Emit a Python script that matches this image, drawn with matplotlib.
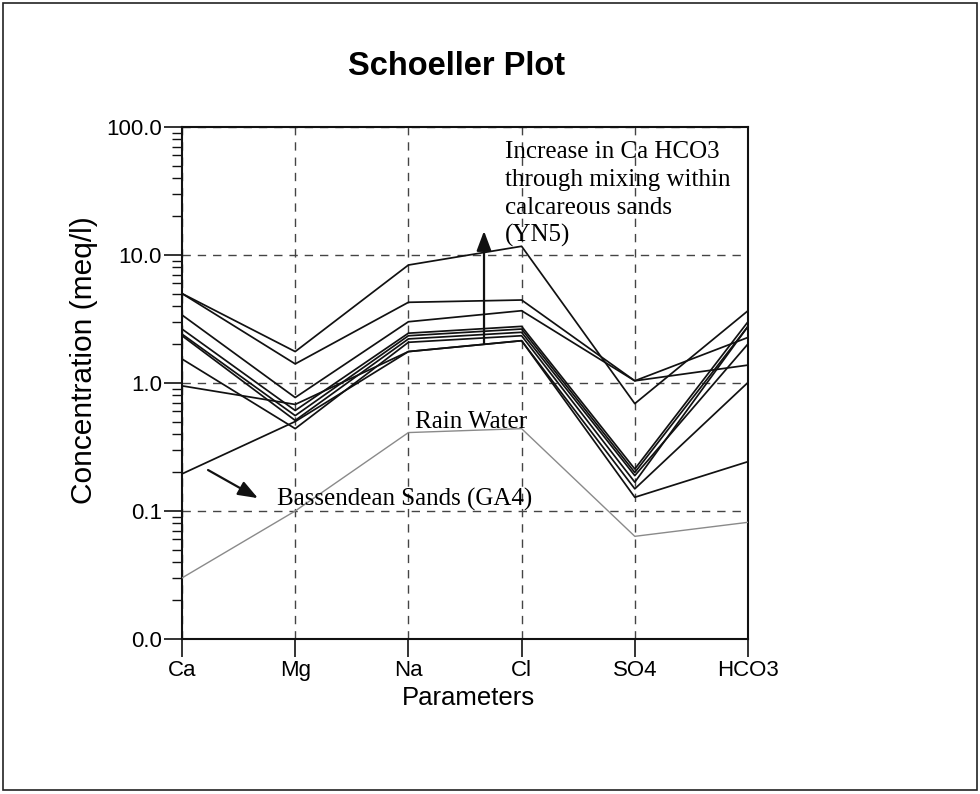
import matplotlib
matplotlib.use("Agg")
import matplotlib.pyplot as plt
from matplotlib.patches import Rectangle
from matplotlib.ticker import FixedLocator, LogLocator, NullFormatter

# Ion concentrations (meq/l) for each groundwater sample
parameters = ["Ca", "Mg", "Na", "Cl", "SO4", "HCO3"]
sample_yn5 = [5.0, 1.76, 8.35, 11.7, 0.69, 3.67]
sample_b = [5.0, 1.41, 4.27, 4.45, 1.04, 1.38]
sample_c = [3.4, 0.77, 3.01, 3.67, 1.04, 2.27]
sample_d = [2.64, 0.61, 2.45, 2.77, 0.213, 3.01]
sample_e = [2.41, 0.556, 2.34, 2.64, 0.20, 2.77]
sample_f = [2.34, 0.51, 2.21, 2.49, 0.189, 2.02]
sample_g = [1.54, 0.44, 2.08, 2.34, 0.168, 2.77]
sample_h = [0.95, 0.68, 1.76, 2.14, 0.149, 1.01]
sample_ga4 = [0.195, 0.50, 1.76, 2.14, 0.128, 0.243]
rain_water = [0.03, 0.10, 0.41, 0.44, 0.0634, 0.0816]

samples = [sample_yn5, sample_b, sample_c, sample_d, sample_e,
           sample_f, sample_g, sample_h, sample_ga4]

y_ticks = [0.01, 0.1, 1.0, 10.0, 100.0]
y_tick_labels = ["0.0", "0.1", "1.0", "10.0", "100.0"]

sans = ["Liberation Sans", "DejaVu Sans"]
serif = ["Liberation Serif", "DejaVu Serif"]
W, H = 980, 794

fig = plt.figure(figsize=(W / 100, H / 100), dpi=100)
fig.patch.set_facecolor("white")
fig.patches.append(Rectangle((0.003, 0.005), 0.994, 0.991, transform=fig.transFigure,
                             fill=False, edgecolor="#222222", linewidth=1.2))

ax = fig.add_axes([182 / W, 1 - 639 / H, (748 - 182) / W, (639 - 127) / H])
x = list(range(len(parameters)))

for s in samples:
    ax.plot(x, s, color="#111111", linewidth=1.25, zorder=3)
ax.plot(x, rain_water, color="#8a8a8a", linewidth=1.0, zorder=3)

ax.set_yscale("log")
ax.set_ylim(0.01, 100)
ax.set_xlim(0, len(parameters) - 1)

ax.yaxis.set_major_locator(FixedLocator(y_ticks))
ax.set_yticklabels(y_tick_labels, fontfamily=sans, fontsize=16)
ax.yaxis.set_minor_locator(LogLocator(base=10, subs=range(2, 10)))
ax.yaxis.set_minor_formatter(NullFormatter())
ax.set_xticks(x)
ax.set_xticklabels(parameters, fontfamily=sans, fontsize=16)

ax.tick_params(axis="both", which="major", direction="out", length=13, width=1.2,
               color="#111111")
ax.tick_params(axis="y", which="major", pad=1.5)
ax.tick_params(axis="x", which="major", pad=2)
ax.tick_params(axis="y", which="minor", direction="out", length=7, width=1.0,
               color="#111111")
for sp in ax.spines.values():
    sp.set_linewidth(1.5)
    sp.set_color("#111111")

ax.grid(True, which="major", linestyle=(0, (6, 5)), color="#444444", linewidth=1.0)
ax.set_axisbelow(True)

fig.text(468 / W, 1 - 705 / H, "Parameters", fontfamily=sans, fontsize=18.5,
         ha="center", va="baseline")
fig.text(84 / W, 1 - 360 / H, "Concentration (meq/l)", fontfamily=sans, fontsize=21.5,
         rotation=90, ha="center", va="center")
fig.text(457 / W, 1 - 75 / H, "Schoeller Plot", fontfamily=sans, fontsize=23.5,
         fontweight="bold", ha="center", va="baseline")

# Annotations
note_lines = ["Increase in Ca HCO3", "through mixing within",
              "calcareous sands", "(YN5)"]
for i, line in enumerate(note_lines):
    fig.text(505 / W, 1 - (158 + 28 * i) / H, line, fontfamily=serif, fontsize=18,
             ha="left", va="baseline", zorder=4)
arrow_style = "-|>,head_length=1.2,head_width=0.45"
ax.annotate("", xy=(2.668, 15.4), xytext=(2.668, 2.02),
            arrowprops=dict(arrowstyle=arrow_style, color="#111111", lw=1.6,
                            shrinkA=0, shrinkB=0, mutation_scale=10), zorder=4)
fig.text(415 / W, 1 - 428 / H, "Rain Water", fontfamily=serif, fontsize=18,
         ha="left", va="baseline", zorder=4)
ax.annotate("", xy=(0.671, 0.126), xytext=(0.23, 0.209),
            arrowprops=dict(arrowstyle=arrow_style, color="#111111", lw=1.6,
                            shrinkA=0, shrinkB=0, mutation_scale=10), zorder=4)
fig.text(277 / W, 1 - 506 / H, "Bassendean Sands (GA4)", fontfamily=serif, fontsize=18,
         ha="left", va="baseline", zorder=4)

fig.savefig("out.png", dpi=100, facecolor="white")
